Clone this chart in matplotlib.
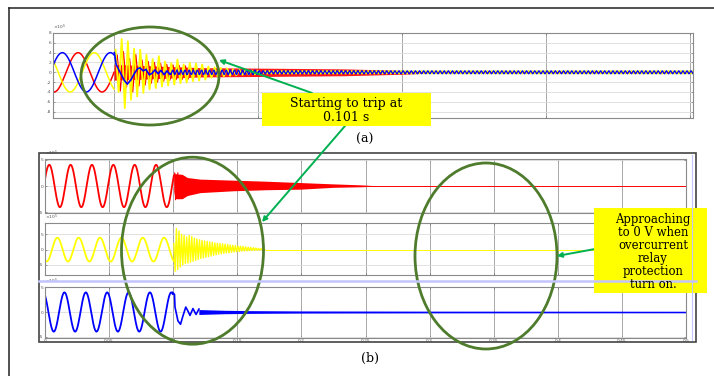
import numpy as np
import matplotlib.pyplot as plt
from matplotlib.patches import Ellipse, Rectangle, FancyArrowPatch

W, H = 714, 376
RED, YEL, BLU = '#ff0000', '#ffff00', '#0000ff'
F0 = 60.0          # supply frequency, from the cycle spacing

# ---------------- panel (a): zoomed three-phase scope, x10^5 ----------------
a_xlim = (0.0788, 0.301)
a_ylim = (-9.3, 8.0)
a_yticks = [-8, -6, -4, -2, 0, 2, 4, 6, 8]
a_xgrid = [0.1, 0.15, 0.2, 0.25, 0.3]
a_fault = 0.1
a_amp = [4.0, 4.0, 4.0]                 # red, yellow, blue
a_peak = [0.0875, 0.0931, 0.0987]       # time of a crest, each phase

# yellow transient spikes (crest / trough of each burst)
a_spike_dt = 0.00215
a_yel_t0 = 0.1005
a_yel_up = [4.6, 6.8, 6.3, 4.8, 4.6, 3.6, 2.7, 3.3, 2.2, 1.9, 2.6, 1.6,
            1.9, 1.8, 1.6, 1.2, 1.0, 0.9, 0.8, 0.6, 0.5, 0.45, 0.4, 0.35]
a_yel_dn = [-4.0, -7.3, -5.6, -4.9, -4.2, -3.5, -3.2, -2.9, -2.7, -2.5, -2.2, -2.1,
            -1.8, -1.7, -1.5, -1.1, -0.9, -0.8, -0.7, -0.6, -0.5, -0.45, -0.4, -0.35]
a_red_t0 = 0.1011
a_red_up = [3.5, 4.2, 2.8, 3.6, 2.5, 2.2, 2.0, 1.8, 1.6, 1.5, 1.4, 1.3]
a_red_dn = [-3.8, -3.0, -4.0, -2.8, -2.6, -2.2, -2.0, -1.8, -1.6, -1.5, -1.4, -1.3]
# red decaying band
a_red_band_t = [0.1, 0.13, 0.16, 0.18, 0.2, 0.211]
a_red_band_h = [1.6, 0.95, 0.8, 0.7, 0.4, 0.12]
# blue swing right after the trip
a_blu_t = [0.1001, 0.1005, 0.1007, 0.1021, 0.1035, 0.1046, 0.1059, 0.1069, 0.1081,
           0.1090, 0.1101, 0.1111, 0.1122, 0.1132, 0.1142, 0.1153, 0.1163, 0.1174,
           0.1184, 0.1194]
a_blu_v = [4.0, 2.5, 1.6, 0.0, -1.6, -2.4, -1.5, -0.4, 0.7, 0.9, 0.3, 0.6, -0.5,
           -0.2, 0.5, -0.3, 0.4, -0.5, 0.3, -0.4]
# residual ripple: (start, end, amplitude)
a_res_f = 700.0
a_blu_res = [(0.1194, 0.15, 0.45), (0.15, 0.301, 0.3)]
a_yel_res = [(0.152, 0.301, 0.3)]
a_red_res = [(0.2, 0.301, 0.15)]

# ---------------- panel (b): full 0.5 s record, x10^5 ----------------
b_xlim = (0.0, 0.5)
b_xticks = [0, 0.05, 0.1, 0.15, 0.2, 0.25, 0.3, 0.35, 0.4, 0.45, 0.5]
b_xlabels = ['0', '0.05', '0.1', '0.15', '0.2', '0.25', '0.3', '0.35', '0.4', '0.45', '0.5']
b_yticks = [-5, 0, 5]
b_fault = 0.1005
b_amp = [4.0, 3.9, 4.0]
b_peak = [0.0033, 0.0096, -0.0015]

b_red_env_t = [0.1005, 0.1014, 0.107, 0.111, 0.121, 0.147, 0.173, 0.199, 0.225, 0.246, 0.262]
b_red_env_up = [2.8, 2.3, 2.2, 1.6, 1.3, 1.1, 0.9, 0.65, 0.4, 0.22, 0.0]
b_red_env_dn = [-1.0, -2.4, -2.4, -1.8, -1.25, -0.9, -0.7, -0.6, -0.25, -0.15, 0.0]
# taller red needles at the start of the burst
b_red_t0 = 0.1012
b_red_up = [2.4, 2.1, 2.5, 1.9, 2.0, 1.7, 1.6, 1.5]
b_red_dn = [-2.6, -2.2, -2.4, -2.0, -1.9, -1.7, -1.5, -1.4]

b_spike_dt = 0.002
b_yel_up = [2.0, 6.9, 6.1, 5.0, 4.6, 4.1, 4.6, 4.3, 3.7, 3.5, 3.2, 3.0, 2.8, 2.7, 2.5,
            2.4, 2.2, 2.1, 2.0, 1.9, 1.8, 1.7, 1.5, 1.4, 1.3, 1.2, 1.1, 1.0, 0.9, 0.8,
            0.7, 0.6, 0.5, 0.4, 0.3, 0.2]
b_yel_dn = [-7.1, -6.5, -5.7, -5.0, -4.6, -4.4, -4.1, -3.8, -3.5, -3.2, -2.9, -2.7,
            -2.5, -2.3, -2.1, -1.9, -1.7, -1.5, -1.4, -1.2, -1.1, -1.0, -0.9, -0.8,
            -0.7, -0.6, -0.5, -0.45, -0.4, -0.35, -0.3, -0.25, -0.2, -0.15, -0.1, -0.05]

b_blu_t = [0.0996, 0.1010, 0.1014, 0.1037, 0.1057, 0.1076, 0.1098, 0.1115, 0.1131,
           0.1154, 0.1178, 0.1201]
b_blu_v = [4.0, 3.6, 1.0, -1.8, -2.5, -0.8, 1.0, 0.2, -0.7, 0.7, -0.5, 0.6]
b_blu_env_t = [0.12, 0.14, 0.16, 0.2, 0.3, 0.5]
b_blu_env_h = [0.5, 0.35, 0.28, 0.22, 0.18, 0.16]


fig = plt.figure(figsize=(W / 100, H / 100), dpi=100)
fig.patch.set_facecolor('white')


def px_axes(x0, y0, x1, y1, **kw):
    return fig.add_axes([x0 / W, 1 - y1 / H, (x1 - x0) / W, (y1 - y0) / H], **kw)


def scope(ax, xlim, ylim, yticks, xgrid, xlabels=None):
    ax.set_xlim(*xlim)
    ax.set_ylim(*ylim)
    ax.set_yticks(yticks)
    ax.set_yticklabels([str(v) for v in yticks])
    ax.set_xticks(xgrid)
    if xlabels is None:
        ax.set_xticklabels([])
    else:
        ax.set_xticklabels(xlabels)
    ax.grid(axis='y', color='#dcdcdc', lw=0.6)
    ax.grid(axis='x', color='#a8a8a8', lw=0.7)
    ax.set_axisbelow(True)
    ax.tick_params(labelsize=3.2, colors='#555555', length=1.5, width=0.4,
                   direction='in', pad=1, right=True, top=True)
    for s in ax.spines.values():
        s.set_color('#8a8a8a')
        s.set_linewidth(0.8)
    ax.text(0.0, 1.01, r'$\times10^5$', transform=ax.transAxes, fontsize=3.2,
            color='#555555', va='bottom')


def sine(ax, t0, t1, amp, f, peak, color, lw, n=600):
    t = np.linspace(t0, t1, n)
    ax.plot(t, amp * np.cos(2 * np.pi * f * (t - peak)), color=color, lw=lw)


def zigzag(ax, t0, dt, ups, dns, color, lw):
    ts, vs = [], []
    for i, (u, d) in enumerate(zip(ups, dns)):
        ts += [t0 + i * dt, t0 + (i + 0.5) * dt]
        vs += [u, d]
    ax.plot(ts, vs, color=color, lw=lw)


def ripple(ax, segs, f, color, lw, phase=0.0):
    for t0, t1, a in segs:
        t = np.linspace(t0, t1, int((t1 - t0) * f * 14) + 2)
        ax.plot(t, a * np.sin(2 * np.pi * f * t + phase), color=color, lw=lw)


# ---------- panel (a) ----------
ax_a = px_axes(53, 33, 693, 118)
scope(ax_a, a_xlim, a_ylim, a_yticks, a_xgrid)
cols = [RED, YEL, BLU]
for c, amp, pk in zip(cols, a_amp, a_peak):
    sine(ax_a, a_xlim[0], a_fault, amp, F0, pk, c, 1.1)
ax_a.fill_between(a_red_band_t, [-h for h in a_red_band_h], a_red_band_h,
                  color=RED, lw=0, alpha=0.9)
ripple(ax_a, a_red_res, a_res_f, RED, 0.9, phase=1.0)
zigzag(ax_a, a_red_t0, a_spike_dt, a_red_up, a_red_dn, RED, 0.9)
zigzag(ax_a, a_yel_t0, a_spike_dt, a_yel_up, a_yel_dn, YEL, 1.3)
ripple(ax_a, a_yel_res, a_res_f, YEL, 1.0, phase=np.pi)
ax_a.plot(a_blu_t, a_blu_v, color=BLU, lw=1.2)
ripple(ax_a, a_blu_res, a_res_f, BLU, 0.9)

# ---------- panel (b) ----------
ax_r = px_axes(45, 159, 686, 213)
ax_y = px_axes(45, 223, 686, 275)
ax_b = px_axes(45, 287, 686, 338)
scope(ax_r, b_xlim, (-5.1, 5.1), b_yticks, b_xticks)
scope(ax_y, b_xlim, (-8.3, 8.7), b_yticks, b_xticks)
scope(ax_b, b_xlim, (-5.3, 5.1), b_yticks, b_xticks, b_xlabels)
ax_b.tick_params(axis='x', pad=0.6)

sine(ax_r, 0, b_fault, b_amp[0], F0, b_peak[0], RED, 1.3)
ax_r.fill_between(b_red_env_t, b_red_env_dn, b_red_env_up, color=RED, lw=0)
zigzag(ax_r, b_red_t0, 0.0012, b_red_up, b_red_dn, RED, 0.8)
ax_r.plot([b_red_env_t[-2], 0.5], [0, 0], color=RED, lw=0.7)

sine(ax_y, 0, b_fault, b_amp[1], F0, b_peak[1], YEL, 1.3)
zigzag(ax_y, b_fault, b_spike_dt, b_yel_up, b_yel_dn, YEL, 1.0)
ax_y.plot([b_fault + b_spike_dt * len(b_yel_up), 0.5], [0, 0], color=YEL, lw=0.7)

sine(ax_b, 0, b_blu_t[0], b_amp[2], F0, b_peak[2], BLU, 1.3)
ax_b.plot(b_blu_t, b_blu_v, color=BLU, lw=1.2)
ax_b.fill_between(b_blu_env_t, [-h for h in b_blu_env_h],
                  b_blu_env_h, color=BLU, lw=0)

# ---------- overlay: frames, callouts ----------
ov = fig.add_axes([0, 0, 1, 1], zorder=10)
ov.set_xlim(0, W)
ov.set_ylim(H, 0)
ov.axis('off')
ov.patch.set_alpha(0)

ov.plot([9, W], [8, 8], color='#222222', lw=1.1)
ov.plot([9, 9], [8, H], color='#222222', lw=1.1)
ov.add_patch(Rectangle((39, 153), 657, 189, fill=False, ec='#444444', lw=1.2))
ov.plot([39, 696], [281, 281], color='#c4c4ff', lw=1.8)
ov.plot([692, 692], [155, 340], color='#c4c4ff', lw=0.8)

GREEN = '#4e7c2c'
for (cx, cy, w, h) in [(150, 76, 138, 98), (192.5, 250.7, 142, 187), (486, 256, 142, 186)]:
    ov.add_patch(Ellipse((cx, cy), w, h, fill=False, ec=GREEN, lw=2.0))

ARROW = '#00b050'
for (x0, y0, x1, y1) in [(312, 93, 219, 60), (345, 126, 262, 222), (595, 249, 557, 256)]:
    ov.add_patch(FancyArrowPatch((x0, y0), (x1, y1), arrowstyle='-|>',
                                 mutation_scale=7, color=ARROW, lw=1.4,
                                 shrinkA=0, shrinkB=0))

ov.add_patch(Rectangle((262, 93), 169, 33, fc='#ffff00', ec='none'))
ov.add_patch(Rectangle((594, 208), 113, 85, fc='#ffff00', ec='none'))
serif = 'DejaVu Serif'
ov.text(346, 104, 'Starting to trip at', ha='center', va='center', fontsize=9,
        family=serif)
ov.text(346, 117.5, '0.101 s', ha='center', va='center', fontsize=9, family=serif)
box2 = ['Approaching', 'to 0 V when', 'overcurrent', 'relay', 'protection', 'turn on.']
for i, line in enumerate(box2):
    ov.text(653, 219.5 + i * 12.9, line, ha='center', va='center', fontsize=8.4,
            family=serif)
ov.text(365, 139, '(a)', ha='center', va='center', fontsize=9, family=serif)
ov.text(370, 358, '(b)', ha='center', va='center', fontsize=9, family=serif)

fig.savefig('out.png', dpi=100)
